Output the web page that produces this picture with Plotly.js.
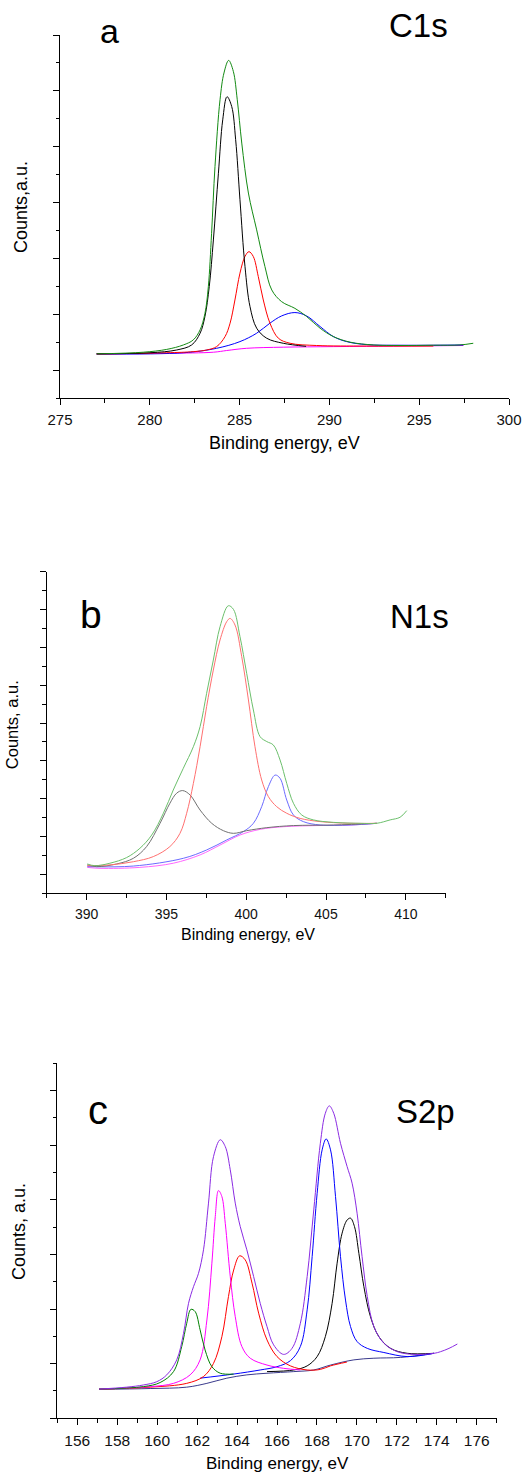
<!DOCTYPE html>
<html>
<head>
<meta charset="utf-8">
<script src="https://cdn.plot.ly/plotly-3.0.1.min.js"></script>
<style>html,body{margin:0;padding:0;background:#fff;}#chart{width:526px;height:1473px;}</style>
</head>
<body>
<div id="chart"></div>
<script>
// ---------- Panel a : C1s ----------
const aEnvX = [277.04,279.64,280.94,281.87,282.42,282.8,283.07,283.26,283.44,283.63,283.91,284.13,284.39,284.65,284.87,285.12,285.49,285.95,286.41,286.79,287.34,288.08,288.73,289.48,290.22,291.15,292.45,293.93,295.79,297.27,298.01];
const aEnvY = [1.58,1.64,1.74,1.90,2.08,2.44,3.03,3.99,5.90,8.29,10.68,11.64,12.09,11.70,10.68,9.13,7.34,6.02,4.71,3.87,3.45,3.21,2.92,2.50,2.20,2.00,1.90,1.88,1.89,1.90,1.96];
const aCCX = [277.04,280.01,281.5,282.33,282.8,283.07,283.31,283.54,283.82,284.06,284.3,284.56,284.78,285.02,285.3,285.58,285.95,286.51,287.43,288.7];
const aCCY = [1.58,1.62,1.72,1.90,2.32,2.92,3.99,5.66,8.05,9.96,10.79,10.44,9.25,7.10,4.71,3.27,2.50,2.14,1.96,1.85];
const aCOX = [277.04,280.94,282.42,283.17,283.72,284.19,284.47,284.74,285.02,285.3,285.52,285.76,286.04,286.32,286.69,287.16,287.81,289.29,292.07,295.79];
const aCOY = [1.58,1.62,1.66,1.72,1.84,2.20,2.68,3.51,4.47,5.07,5.24,5.07,4.35,3.51,2.68,2.14,1.96,1.88,1.86,1.86];
const aOCOX = [277.04,281.87,283.72,285.02,285.95,286.69,287.34,288.08,288.73,289.48,290.22,290.96,292.07,293.93,295.79,297.46];
const aOCOY = [1.58,1.62,1.78,2.02,2.32,2.68,2.94,3.06,2.94,2.56,2.20,2.02,1.91,1.89,1.89,1.90];
const aBgX = [277.04,280.94,283.54,284.28,285.39,287.43,290.22,293.93,297.46];
const aBgY = [1.57,1.60,1.64,1.70,1.78,1.82,1.84,1.86,1.88];

// ---------- Panel b : N1s ----------
const bEnvX = [390.04,390.52,391.46,392.51,393.34,394.08,394.81,395.43,396.06,396.69,397.11,397.52,397.94,398.36,398.88,399.2,399.61,400.03,400.45,400.87,401.29,401.7,402.12,402.54,402.96,403.48,404.21,405.47,407.14,408.18,409.02,409.64,410.06];
const bEnvY = [1.55,1.46,1.59,1.89,2.38,3.08,4.23,5.46,6.61,7.75,8.81,10.57,12.33,14.09,15.20,15.01,13.57,11.63,9.69,8.28,8.02,7.84,7.05,5.81,4.76,4.14,3.88,3.75,3.70,3.70,3.88,4.02,4.37];
const bRedX = [390.04,391.46,392.93,394.18,395.22,395.85,396.27,396.69,397.11,397.52,397.94,398.36,398.78,398.99,399.3,399.72,400.14,400.55,400.97,401.39,401.91,402.54,403.38,404.63,406.51,408.18];
const bRedY = [1.46,1.50,1.67,1.94,2.47,3.17,4.23,5.81,7.75,9.87,11.8,13.39,14.36,14.53,14.18,12.51,10.22,7.75,5.99,5.11,4.58,4.23,3.96,3.79,3.70,3.70];
const bBlkX = [390.04,390.63,391.88,392.93,393.76,394.6,395.22,395.64,396.02,396.48,397.11,397.84,398.57,399.2,400.03,401.29,402.96,405.47,408.18];
const bBlkY = [1.50,1.41,1.55,1.85,2.47,3.70,4.76,5.29,5.43,5.20,4.40,3.70,3.31,3.17,3.31,3.47,3.58,3.61,3.70];
const bBluX = [390.04,392.93,396.06,397.52,398.78,399.82,400.45,400.97,401.39,401.81,402.12,402.54,402.96,403.58,404.63,406.51,408.18];
const bBluY = [1.41,1.44,1.85,2.29,2.82,3.26,3.70,4.58,5.64,6.25,6.08,4.93,4.14,3.79,3.61,3.61,3.70];
const bBgX = [390.04,390.84,393.34,395.43,397.11,398.36,399.61,400.87,402.33,404.42,406.51,408.18];
const bBgY = [1.37,1.32,1.37,1.59,2.03,2.55,3.08,3.38,3.52,3.58,3.61,3.70];

// ---------- Panel c : S2p ----------
const cEnvX = [157.09,158.47,159.31,159.98,160.48,160.98,161.32,161.57,161.82,162.07,162.32,162.57,162.82,163.16,163.41,163.66,163.91,164.16,164.49,164.83,165.16,165.5,165.83,166.33,166.75,167.17,167.51,167.84,168.17,168.42,168.62,168.84,169.18,169.51,169.76,170.01,170.26,170.52,170.85,171.35,172.02,172.86,173.86,174.19,174.61,175.03];
const cEnvY = [1.07,1.14,1.22,1.34,1.59,2.14,3.11,4.21,4.82,5.31,6.17,7.88,9.58,10.2,9.95,9.1,7.88,7.02,6.17,5.19,4.21,3.36,2.69,2.34,2.56,3.48,5.19,7.63,10.07,11.17,11.44,11.17,10.07,9.22,8.61,7.51,5.92,4.46,3.36,2.75,2.44,2.34,2.38,2.44,2.56,2.72];
const cGrnX = [157.09,159.31,160.15,160.82,161.23,161.48,161.69,161.9,162.15,162.4,162.74,163.16,163.83];
const cGrnY = [1.07,1.16,1.31,1.71,2.63,3.48,3.99,3.91,3.24,2.50,1.89,1.65,1.62];
const cMagX = [157.09,159.65,160.82,161.65,162.15,162.49,162.74,162.91,163.07,163.24,163.41,163.66,163.91,164.24,164.66,165.5,166.33,167.17];
const cMagY = [1.07,1.16,1.28,1.59,2.14,3.6,5.68,7.39,8.34,8.12,7.14,5.19,3.72,2.63,2.2,1.95,1.83,1.77];
const cRedX = [157.09,159.65,161.48,162.32,162.82,163.24,163.57,163.83,164.13,164.41,164.75,165.08,165.5,166.0,166.67,167.51,168.17,168.68,169.5];
const cRedY = [1.07,1.14,1.28,1.53,2.01,2.99,4.46,5.43,5.95,5.8,4.95,3.85,2.87,2.26,1.92,1.77,1.79,1.92,2.06];
const cBluX = [162.15,163.83,165.16,166.0,166.67,167.17,167.51,167.76,168.01,168.26,168.46,168.68,168.93,169.18,169.43,169.68,170.01,170.52,171.35,172.52,173.86];
const cBluY = [1.47,1.62,1.77,1.89,2.11,2.63,3.97,5.92,8.24,9.83,10.23,9.83,8.12,5.92,4.33,3.36,2.81,2.56,2.41,2.26,2.38];
const cBlkX = [165.5,166.84,167.51,168.01,168.42,168.76,169.01,169.26,169.51,169.68,169.88,170.1,170.35,170.68,171.1,171.69,172.52,173.86];
const cBlkY = [1.71,1.77,1.92,2.26,2.99,4.21,5.68,6.78,7.26,7.33,7.02,6.04,4.82,3.72,2.99,2.56,2.38,2.38];
const cBgX = [157.09,159.65,161.48,162.49,163.49,164.49,165.5,166.84,167.84,168.68,169.85,170.85,172.19,173.86];
const cBgY = [1.06,1.09,1.14,1.28,1.47,1.59,1.65,1.71,1.77,1.95,2.14,2.2,2.23,2.38];

// tick labels / titles
const panelLetters = ['a','b','c'];
const panelLines = ['C1s','N1s','S2p'];
const xTitle = 'Binding energy, eV';
const yTitles = ['Counts,a.u.','Counts, a.u.','Counts, a.u.'];

const W = 526, H = 1473;
const px = v => v / W;
const py = v => 1 - v / H;

function tr(x, y, color, ax) {
  return {x: x, y: y, type: 'scatter', mode: 'lines',
    line: {color: color, width: 1, shape: 'spline', smoothing: 1},
    xaxis: 'x' + ax, yaxis: 'y' + ax, hoverinfo: 'skip', showlegend: false};
}

const data = [
  tr(aBgX, aBgY, '#ff00ff', ''),
  tr(aOCOX, aOCOY, '#0000ff', ''),
  tr(aCOX, aCOY, '#ff0000', ''),
  tr(aCCX, aCCY, '#000000', ''),
  tr(aEnvX, aEnvY, '#138a13', ''),
  tr(bBgX, bBgY, '#ff66ff', '2'),
  tr(bBluX, bBluY, '#6b6bff', '2'),
  tr(bBlkX, bBlkY, '#707070', '2'),
  tr(bRedX, bRedY, '#ff7070', '2'),
  tr(bEnvX, bEnvY, '#6cbf6c', '2'),
  tr(cBgX, cBgY, '#3a3a8c', '3'),
  tr(cBlkX, cBlkY, '#000000', '3'),
  tr(cBluX, cBluY, '#0000ff', '3'),
  tr(cRedX, cRedY, '#ff0000', '3'),
  tr(cMagX, cMagY, '#ff00ff', '3'),
  tr(cGrnX, cGrnY, '#008000', '3'),
  tr(cEnvX, cEnvY, '#8a2be2', '3')
];

const FONT = 'Liberation Sans, Arial, sans-serif';
function xa(dom, anchor, range, tick0, dtick, mdtick, fs, standoff) {
  return {domain: dom, anchor: anchor, range: range, tick0: tick0, dtick: dtick,
    showline: true, linecolor: '#000', linewidth: 1, ticks: 'outside', ticklen: 6,
    tickwidth: 1, tickcolor: '#000', showgrid: false, zeroline: false,
    tickfont: {family: FONT, size: fs, color: '#111'}, ticklabelstandoff: standoff,
    minor: {dtick: mdtick, ticks: 'outside', ticklen: 3.5, tickcolor: '#000', tickwidth: 1, showgrid: false}};
}
function ya(dom, anchor, range, tick0) {
  return {domain: dom, anchor: anchor, range: range, tick0: tick0, dtick: 2,
    showline: true, linecolor: '#000', linewidth: 1, ticks: 'outside', ticklen: 6,
    tickwidth: 1, tickcolor: '#000', showgrid: false, zeroline: false, showticklabels: false,
    minor: {dtick: 1, ticks: 'outside', ticklen: 3.5, tickcolor: '#000', tickwidth: 1, showgrid: false}};
}

function ann(text, x, y, size, xanchor, angle) {
  return {text: text, xref: 'paper', yref: 'paper', x: px(x), y: py(y),
    xanchor: xanchor, yanchor: 'middle', showarrow: false, textangle: angle || 0,
    font: {family: FONT, size: size, color: '#000'}};
}

const layout = {
  width: W, height: H, margin: {l: 0, r: 0, t: 0, b: 0},
  paper_bgcolor: '#fff', plot_bgcolor: 'rgba(0,0,0,0)', showlegend: false,
  xaxis: xa([px(60), px(509)], 'y', [275, 300], 275, 5, 2.5, 15, 2),
  yaxis: ya([py(398), py(35)], 'x', [0, 13], 1),
  xaxis2: xa([px(46.7), px(445.7)], 'y2', [387.5, 412.5], 390, 5, 2.5, 14, 2),
  yaxis2: ya([py(893.3), py(571.7)], 'x2', [0, 17], 1),
  xaxis3: xa([px(57.3), px(496.7)], 'y3', [155, 177], 156, 2, 1, 15.5, 2),
  yaxis3: ya([py(1418.3), py(1063.3)], 'x3', [0, 13], 0),
  annotations: [
    ann(panelLetters[0], 97.5, 30.5, 34, 'left'),
    ann(panelLines[0], 387, 25.8, 33, 'left'),
    ann(xTitle, 284.5, 443, 18, 'center'),
    ann(yTitles[0], 20.5, 207.5, 18, 'center', -90),
    ann(panelLetters[1], 78, 614, 39, 'left'),
    ann(panelLines[1], 387.5, 617, 33, 'left'),
    ann(xTitle, 247.5, 934.7, 16, 'center'),
    ann(yTitles[1], 11.7, 724.5, 16.5, 'center', -90),
    ann(panelLetters[2], 86, 1109.8, 40, 'left'),
    ann(panelLines[2], 394, 1111, 33, 'left'),
    ann(xTitle, 277, 1463.4, 17, 'center'),
    ann(yTitles[2], 19, 1231, 18, 'center', -90)
  ]
};

Plotly.newPlot('chart', data, layout, {staticPlot: true, displayModeBar: false});
</script>
</body>
</html>
